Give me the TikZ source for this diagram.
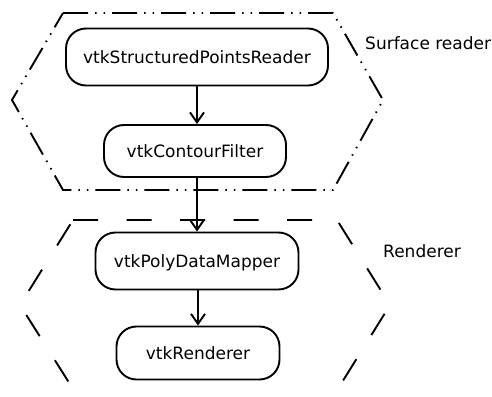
\documentclass[tikz,border=0pt]{standalone}
\usepackage{fontspec}
\setmainfont{DejaVu Sans}
\usetikzlibrary{arrows.meta}
\begin{document}
\begin{tikzpicture}[x=1pt,y=-1pt,
  stage/.style={draw, line width=1.9pt, rounded corners=20pt, fill=white,
    inner sep=0pt, text height=12.4pt, text depth=0pt,
    font=\fontsize{17}{20}\selectfont},
  flow/.style={line width=1.9pt,
    -{Straight Barb[length=10pt,width=14pt,line width=1.9pt]}},
  groupa/.style={line width=1.9pt,
    dash pattern=on 25pt off 7pt on 1.5pt off 7pt on 1.5pt off 7pt},
  groupb/.style={line width=1.9pt, dash pattern=on 25pt off 28.5pt},
  caption/.style={anchor=base west, inner sep=0pt,
    font=\fontsize{17}{20}\selectfont}]
\useasboundingbox (0,0) rectangle (492,396);
\clip (0,0) rectangle (492,396);

% group outlines
\draw[groupa] (63,13) -- (333,13) -- (383,100) -- (333,190) -- (63,190)
  -- (12,100) -- cycle;
\draw[groupb] (73,220) -- (337,220) -- (390,305) -- (331,400) -- (80,400)
  -- (20,305) -- cycle;

\node[caption] (lsurf) at (365,49) {Surface reader};
\node[caption] (lrend) at (383,257) {Renderer};

% pipeline stages
\node[stage, minimum width=262pt, minimum height=57pt] (n1) at (197,57)
  {vtkStructuredPointsReader};
\node[stage, minimum width=182pt, minimum height=52pt] (n2) at (195,151)
  {vtkContourFilter};
\node[stage, minimum width=203pt, minimum height=57pt] (n3) at (197,261)
  {vtkPolyDataMapper};
\node[stage, minimum width=163pt, minimum height=53pt] (n4) at (198,353)
  {vtkRenderer};

\draw[flow] (n1.south) -- (n1.south |- n2.north);
\draw[flow] (n2.south -| n3.north) -- (n3.north);
\draw[flow] (n3.south -| n4.north) -- (n4.north);
\end{tikzpicture}
\end{document}
